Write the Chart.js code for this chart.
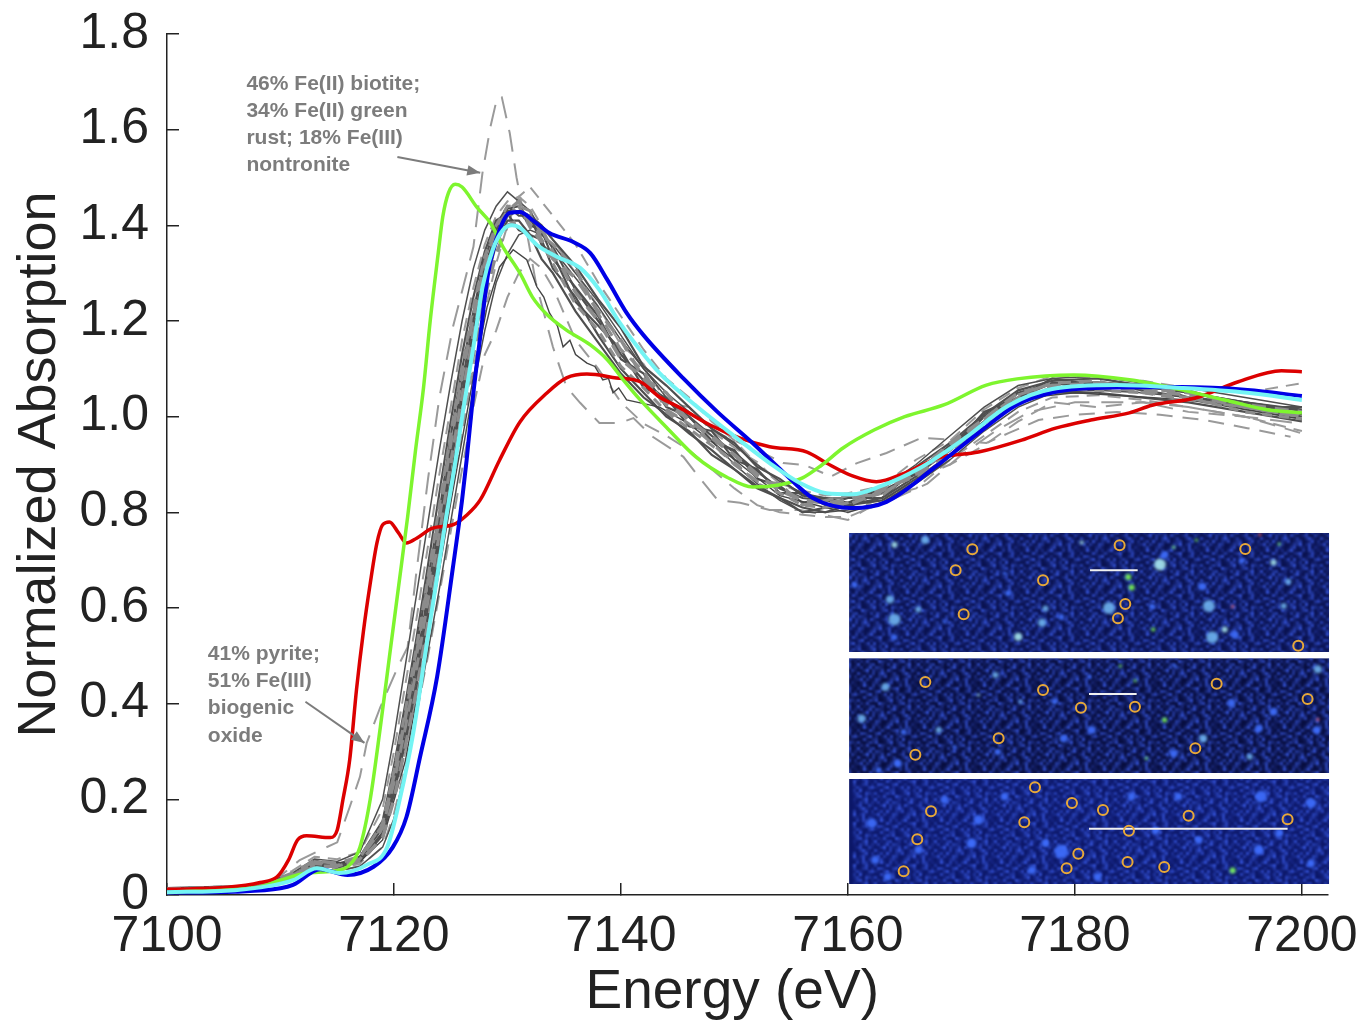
<!DOCTYPE html>
<html><head><meta charset="utf-8">
<style>html,body{margin:0;padding:0;background:#fff}canvas{display:block}</style>
<script src="https://cdn.jsdelivr.net/npm/chart.js@4/dist/chart.umd.min.js"></script></head>
<body><canvas id="c" width="1365" height="1024"></canvas>
<script>
const xTicks=[7100,7120,7140,7160,7180,7200];
const yTicks=[0,0.2,0.4,0.6,0.8,1.0,1.2,1.4,1.6,1.8];

const blueE=[7100,7106,7110,7111.1,7113.5,7115.9,7118.2,7119.9,7121.1,7122.3,7123.8,7125.2,7126,7126.4,7127,7127.6,7128.3,7129.3,7130.2,7131.1,7132.2,7133.7,7135.8,7137.3,7138.8,7140.5,7142,7145.5,7148.5,7151.6,7154.3,7156.9,7160.4,7163.4,7167.7,7171.5,7174.9,7178.3,7181.8,7189.4,7195.2,7200];
const blueA=[.005,.007,.014,.021,.054,.042,.059,.1,.163,.289,.456,.686,.826,.909,1.05,1.167,1.3,1.39,1.426,1.428,1.411,1.384,1.365,1.342,1.286,1.217,1.17,1.08,1.01,.945,.884,.83,.809,.822,.895,.966,1.025,1.052,1.06,1.062,1.056,1.043];
const cyanE=[7100,7106,7111.1,7113.2,7115.2,7117.6,7119.4,7120.5,7121.7,7122.9,7123.8,7124.5,7125.4,7126.1,7127,7127.8,7128.7,7129.6,7130.4,7131.1,7132.6,7134.4,7136.4,7138.1,7139.9,7141.7,7143.4,7145.5,7149.3,7153.1,7155.8,7158.1,7160.4,7162.7,7166.5,7170.3,7174.2,7178,7183.7,7189.4,7195.2,7200];
const cyanA=[.006,.01,.031,.056,.046,.063,.1,.199,.339,.527,.665,.775,.905,1.014,1.146,1.271,1.349,1.39,1.4,1.395,1.359,1.334,1.311,1.265,1.196,1.139,1.091,1.045,.972,.903,.861,.84,.838,.853,.895,.955,1.024,1.058,1.066,1.06,1.05,1.035];
const greenE=[7100,7108.2,7110,7112.3,7114.6,7116.1,7117,7117.9,7118.8,7119.6,7120.4,7121.2,7121.9,7122.6,7123.2,7123.9,7124.3,7124.8,7125.4,7126,7127.3,7128.5,7129.6,7131.1,7132.2,7133.5,7135.2,7137.3,7138.8,7140.2,7141.7,7144,7146.6,7149.3,7151.6,7153.9,7156,7157.7,7159.6,7162.3,7165,7168.5,7172.2,7174.9,7179.9,7184.8,7189.4,7193.2,7197.1,7200];
const greenA=[.006,.017,.031,.046,.05,.063,.1,.199,.351,.498,.644,.79,.93,1.06,1.202,1.342,1.418,1.468,1.486,1.48,1.438,1.405,1.355,1.3,1.25,1.213,1.181,1.15,1.119,1.077,1.035,.978,.916,.874,.853,.857,.872,.899,.935,.972,1,1.025,1.066,1.079,1.087,1.077,1.056,1.035,1.014,1.008];
const redE=[7100,7105.3,7108.2,7109.7,7110.7,7111.5,7112.3,7114.4,7115,7115.5,7116.1,7116.7,7117.3,7117.9,7118.5,7119,7119.6,7120.4,7121.1,7122,7123.4,7125.2,7126.4,7127.6,7129.3,7131.1,7133.5,7135.2,7137,7139.6,7141.7,7143.4,7145.1,7147.8,7150.5,7153.1,7156.4,7158.1,7160.4,7162.5,7165,7168,7171.5,7175.3,7178.3,7181.4,7184.8,7186.8,7190.6,7194.4,7198.2,7200];
const redA=[.012,.016,.026,.038,.073,.115,.124,.12,.136,.199,.283,.43,.55,.65,.736,.774,.78,.757,.736,.746,.767,.774,.794,.826,.909,.989,1.05,1.081,1.089,1.081,1.073,1.041,1.02,.983,.955,.937,.926,.903,.876,.864,.882,.914,.926,.951,.976,.993,1.008,1.024,1.039,1.073,1.096,1.094];

const greyE=[7100,7108,7111,7113,7115,7117,7119,7120,7121,7122,7123,7124,7125,7126,7127,7128,7129,7130,7131,7132,7133,7134,7136,7138,7140,7142,7144,7146,7148,7150,7152,7154,7156,7158,7160,7163,7166,7169,7172,7175,7178,7182,7186,7190,7195,7200];
const darkA=[.012,.018,.04,.068,.062,.075,.14,.24,.36,.49,.63,.78,.93,1.07,1.2,1.31,1.39,1.435,1.44,1.41,1.385,1.355,1.265,1.2,1.13,1.075,1.035,1,.96,.925,.885,.85,.83,.825,.82,.84,.885,.94,1,1.05,1.07,1.072,1.065,1.05,1.03,1.012];
const darkB=[.015,.02,.045,.075,.07,.09,.2,.33,.48,.63,.78,.93,1.07,1.2,1.31,1.39,1.44,1.47,1.45,1.43,1.39,1.35,1.29,1.23,1.16,1.1,1.05,1.01,.975,.94,.9,.865,.84,.83,.83,.85,.9,.96,1.02,1.065,1.08,1.085,1.07,1.06,1.04,1.02];
const darkC=[.01,.015,.03,.055,.05,.06,.1,.16,.26,.38,.51,.64,.78,.92,1.06,1.18,1.28,1.34,1.38,1.39,1.38,1.36,1.3,1.24,1.17,1.1,1.04,1,.95,.9,.86,.825,.8,.8,.805,.82,.86,.91,.97,1.02,1.05,1.055,1.05,1.04,1.015,.995];
const darkD=[.013,.017,.04,.07,.06,.07,.13,.22,.33,.46,.6,.74,.9,1.04,1.17,1.28,1.37,1.42,1.43,1.4,1.39,1.33,1.27,1.21,1.12,1.09,1.02,1,.95,.93,.87,.855,.82,.83,.81,.845,.88,.93,1,1.04,1.07,1.06,1.07,1.04,1.03,1.005];
const darkE=[.014,.018,.042,.066,.064,.08,.15,.26,.38,.52,.66,.8,.96,1.1,1.22,1.33,1.4,1.44,1.42,1.42,1.36,1.34,1.24,1.19,1.14,1.06,1.04,.98,.97,.91,.89,.84,.84,.815,.83,.83,.89,.93,1.01,1.04,1.08,1.065,1.06,1.055,1.02,1.02];
const darkF=[.012,.016,.038,.062,.058,.07,.125,.21,.32,.44,.58,.72,.87,1.01,1.15,1.27,1.36,1.41,1.41,1.38,1.37,1.31,1.25,1.17,1.1,1.05,1,.97,.92,.89,.85,.83,.8,.81,.815,.825,.87,.92,.985,1.03,1.05,1.05,1.04,1.03,1.01,.99];
const darkG=[.013,.017,.036,.072,.06,.08,.155,.27,.4,.54,.69,.84,.99,1.13,1.25,1.345,1.41,1.425,1.39,1.38,1.33,1.3,1.22,1.155,1.09,1.04,1.005,.965,.93,.89,.855,.83,.81,.8,.815,.83,.875,.935,.99,1.035,1.06,1.07,1.055,1.04,1.02,1];
const darkH=[.012,.016,.034,.064,.058,.072,.13,.23,.35,.48,.62,.76,.91,1.05,1.18,1.3,1.38,1.43,1.43,1.42,1.4,1.37,1.315,1.245,1.185,1.105,1.065,1.02,.975,.945,.895,.87,.835,.83,.82,.85,.895,.945,1.005,1.055,1.075,1.08,1.065,1.05,1.03,1.015];
const dashA=[.012,.016,.035,.06,.06,.07,.12,.2,.31,.43,.57,.71,.85,1,1.13,1.25,1.34,1.4,1.41,1.42,1.37,1.33,1.29,1.22,1.16,1.08,1.05,.99,.96,.92,.875,.85,.825,.82,.825,.85,.875,.925,.98,1.03,1.06,1.06,1.055,1.045,1.02,1];
const dashB=[.014,.02,.05,.08,.075,.09,.18,.3,.44,.58,.73,.88,1.02,1.16,1.27,1.36,1.42,1.45,1.46,1.44,1.4,1.37,1.3,1.23,1.15,1.11,1.03,1.02,.97,.935,.905,.86,.845,.835,.84,.855,.91,.95,1.015,1.06,1.085,1.08,1.075,1.06,1.05,1.07];
const dashC=[.013,.018,.045,.072,.066,.08,.145,.25,.37,.505,.65,.79,.945,1.085,1.21,1.32,1.395,1.43,1.45,1.4,1.395,1.345,1.26,1.2,1.12,1.08,1.025,.995,.955,.92,.88,.845,.825,.82,.815,.845,.88,.945,.995,1.05,1.065,1.07,1.06,1.05,1.025,1.01];
const dashD=[.012,.016,.035,.055,.055,.065,.12,.2,.3,.42,.55,.69,.83,.97,1.1,1.22,1.32,1.4,1.46,1.48,1.45,1.42,1.36,1.28,1.21,1.14,1.08,1.04,.99,.95,.9,.86,.84,.82,.8,.83,.85,.91,.96,1.01,1.04,1.045,1.035,1.02,1,.97];
const dashE=[.012,.015,.03,.05,.05,.06,.1,.17,.27,.38,.5,.63,.76,.89,1.02,1.13,1.18,1.25,1.3,1.33,1.31,1.27,1.16,1.1,1.03,.985,.96,.93,.89,.85,.815,.8,.795,.79,.79,.82,.87,.9,.94,.99,1.03,1.02,1.03,1.01,1,.965];
const dashF=[.013,.017,.04,.066,.06,.075,.14,.235,.35,.475,.615,.755,.905,1.045,1.175,1.29,1.375,1.42,1.44,1.43,1.38,1.36,1.31,1.215,1.14,1.095,1.015,.985,.945,.9,.865,.86,.815,.825,.835,.835,.89,.94,.995,1.045,1.07,1.075,1.05,1.035,1.02,1];
const dashG=[.012,.016,.036,.07,.062,.078,.15,.26,.385,.52,.665,.815,.965,1.105,1.23,1.335,1.4,1.44,1.44,1.395,1.365,1.32,1.235,1.18,1.105,1.06,1.01,.975,.94,.905,.86,.84,.815,.81,.82,.84,.88,.93,.99,1.04,1.06,1.055,1.05,1.04,1.01,.995];

const spikeE=[7100,7108,7110,7111.7,7113.5,7115,7116.1,7117,7117.6,7118.8,7120.5,7121.2,7122,7123,7124,7125.2,7127,7127.8,7128.5,7129.1,7129.5,7130.2,7130.8,7131.6,7132.5,7134,7135.2,7136.4,7138.1,7139.9,7141.1,7142.8,7145.5,7146.6,7148.5,7150.5,7153.1,7155.8,7160,7161.5,7163.8,7167,7170,7173,7176,7180,7186,7190,7195,7200];
const spikeA=[.012,.02,.04,.073,.094,.11,.184,.247,.318,.393,.485,.518,.68,.87,1.04,1.188,1.355,1.51,1.606,1.668,1.668,1.593,1.5,1.4,1.28,1.146,1.062,1.029,.987,.987,.997,.958,.916,.882,.826,.82,.805,.805,.784,.805,.826,.86,.92,.97,1.01,1.03,1.03,1.02,1,.985];
const lateE=[7148,7152,7154.3,7156.2,7158.5,7160.8,7163.4,7166.5,7168.5,7172.2,7174.2,7176.8,7180,7183.7,7187.5,7191.4,7195.2,7199];
const lateA=[.97,.93,.903,.899,.875,.903,.924,.956,.953,.945,.966,.993,1.004,1.01,1.004,.993,.976,.958];
const thinE=[7100,7108,7111,7113,7117,7119,7121,7123,7125,7127,7128.2,7129.3,7130.5,7131.7,7132.6,7133.2,7133.7,7134.4,7134.9,7135.5,7136,7137,7137.7,7138.4,7138.9,7139.3,7139.8,7140.5,7141.5,7143.4,7146,7150,7154,7158,7160,7163,7168,7172,7176,7180,7190,7200];
const thinA=[.012,.016,.03,.065,.07,.115,.28,.54,.82,1.083,1.229,1.313,1.349,1.328,1.271,1.25,1.217,1.19,1.146,1.16,1.13,1.112,1.105,1.077,1.08,1.05,1.06,1.035,1.03,1.02,.985,.91,.835,.81,.8,.82,.895,.985,1.04,1.05,1.035,.995];

const circleE=[7170.96,7169.49,7177.19,7170.2,7183.94,7184.44,7183.79,7195.01,7199.68,7166.82,7177.19,7180.53,7185.29,7192.49,7200.5,7173.28,7165.94,7190.61,7176.48,7179.74,7167.32,7182.47,7190.02,7198.74,7175.54,7184.76,7166.11,7180.3,7184.64,7187.87,7179.27,7164.91];
const circleA=[.7227,.6788,.6579,.5868,.731,.6084,.5784,.7234,.5213,.4453,.4286,.3916,.3937,.4418,.4098,.3275,.2934,.3066,.2251,.1923,.1749,.1777,.1658,.1582,.1519,.1345,.1164,.0864,.069,.0585,.0557,.0495];
const barE=[[7181.33,7185.53],[7181.24,7185.44],[7181.24,7198.74]];
const barA=[.6788,.4202,.1387];
const panelE=[7160.1,7202.4];
const panelA=[[.757,.508],[.495,.255],[.2425,.023]];
const panelTint=['#0a1250','#080e40','#0c1768'];
// bright specks of the inset maps: [energy, absorption, radius, colour]
const c1='#a8e8f0',b1='#3f6fff',g1='#80ff50',r1='#ff6050',s1='#6fb4f0';
const specks=[
[7187.5,.691,6,c1],[7175,.540,4,c1],[7164.1,.576,6,s1],[7163.7,.618,4,s1],[7164.1,.732,3,c1],[7183,.600,6,s1],[7184.7,.665,3,g1],[7185,.643,3,g1],[7191.8,.604,6,s1],[7192.1,.539,6,s1],[7187.9,.711,4,b1],[7177.1,.569,4,s1],[7197.5,.695,3,c1],[7198.4,.604,3,s1],[7193.2,.555,3,c1],[7194.1,.544,4,b1],[7166.8,.742,4,s1],[7180.6,.737,2,c1],[7186.9,.555,2,g1],[7188.7,.727,1.5,g1],[7190.7,.742,1.5,g1],[7198,.734,1.5,g1],[7193.9,.603,1.5,r1],[7196.3,.753,1.5,r1],[7174.1,.631,3,b1],[7178.8,.581,3,b1],[7191.2,.645,4,b1],[7198.8,.655,3,s1],[7177.4,.599,3,s1],[7164.1,.539,3,b1],[7166.2,.597,3,s1],[7160.6,.648,3,b1],[7168.5,.571,2,b1],[7173.8,.672,2,b1],[7186.8,.603,3,b1],[7194.7,.699,3,b1],
[7187.9,.366,2.5,g1],[7201.4,.472,4,s1],[7191.3,.327,4,s1],[7188.7,.296,4,b1],[7171.5,.418,1.5,c1],[7173,.460,3,s1],[7197.5,.383,4,b1],[7193.8,.401,4,b1],[7181.5,.345,4,b1],[7179,.327,4,b1],[7161.2,.369,4,s1],[7164.4,.275,4,b1],[7168,.345,3,s1],[7178.2,.404,3,b1],[7184,.479,1.5,g1],[7185.3,.448,1.5,g1],[7186.3,.286,1.5,g1],[7201.4,.367,1.5,r1],[7195.4,.289,3,s1],[7201.3,.345,4,b1],[7188.8,.479,2,b1],[7175.2,.404,2,s1],[7163.3,.435,4,s1],[7173.2,.299,3,b1],[7162.7,.261,3,b1],[7196.2,.348,4,b1],[7181.3,.456,2,b1],[7164.9,.341,3,b1],[7169.4,.310,2,b1],
[7193.9,.051,3,g1],[7178.8,.091,7,b1],[7196.4,.206,6,b1],[7200.8,.192,5,b1],[7162.1,.150,5,b1],[7168.5,.199,4,b1],[7171.5,.157,5,b1],[7177.4,.108,4,b1],[7170.9,.108,5,b1],[7190.9,.115,4,b1],[7196.2,.094,5,b1],[7200.8,.066,4,b1],[7182,.038,4,b1],[7162.4,.073,4,b1],[7166.2,.094,4,b1],[7173.8,.206,4,b1],[7185,.206,4,b1],[7189.1,.206,4,b1],[7176.2,.052,4,b1],[7198,.129,4,b1],[7163.5,.038,4,b1],[7187.1,.135,4,b1]];
// fine-grain tile for the map panels (hex = brightness)
const tile=['03a10582017b0341c052','12f3091506e20081a713','7001c40292048e003b20','0b93018d015028016a04','4207e1503b0c0394108c','01b2068013a5170e0231','a10395c0027e04920b63','062b100e7315028c1704','d0317a025091b4106e02','2804c1963007e2083a15','016f0833a0c4015b0093','b2041907e5028106d420','0390d2164b0379015c06','5c0821a700286f04b213'];
const note1=['46% Fe(II) biotite;','34% Fe(II) green','rust; 18% Fe(III)','nontronite'];
const note1A=[1.696,1.639,1.583,1.526];
const note2=['41% pyrite;','51% Fe(III)','biogenic','oxide'];
const note2A=[.504,.448,.391,.333];

const pts=(e,a)=>e.map((x,i)=>({x,y:a[i]}));
const line=(e,a,color,w,dash,smooth)=>({data:pts(e,a),borderColor:color,borderWidth:w,borderDash:dash||[],cubicInterpolationMode:smooth?'monotone':'default',tension:0,showLine:true,pointRadius:0,fill:false});
const DK='#4f4f4f',GR='#9a9a9a',DS=[13,8],TH=[14,9];
const layers=[
 line(spikeE,spikeA,GR,2,[22,12]),line(lateE,lateA,GR,2,[16,10]),
 line(greyE,dashE,GR,2,[16,10]),line(greyE,dashD,GR,2,DS),line(greyE,dashB,GR,2,DS),
 line(greyE,darkB,DK,1.5),line(greyE,darkC,DK,1.5),line(greyE,darkA,DK,2.2),line(greyE,darkD,DK,2.2),line(greyE,darkE,DK,2.2),line(greyE,darkF,DK,2.2),line(greyE,darkG,DK,2.2),line(greyE,darkH,DK,2.2),
 line(thinE,thinA,'#444',1.4),
 line(greyE,dashA,'#8c8c8c',3.5,TH),line(greyE,dashC,'#8c8c8c',3.5,TH),line(greyE,dashF,'#8c8c8c',3,DS),line(greyE,dashG,'#8c8c8c',3,[10,7]),
 line(redE,redA,'#dc0000',3.5,null,true),
 line(greenE,greenA,'#7ef52e',3.5,null,true),
 line(blueE,blueA,'#0000e6',4,null,true),
 line(cyanE,cyanA,'#74f4f4',4,null,true),
 ...barE.map((e,i)=>line(e,[barA[i],barA[i]],'#f0f0f0',2)),
 {data:pts(circleE,circleA),showLine:false,pointStyle:'circle',pointRadius:5,pointBorderWidth:2,pointBorderColor:'#e8a838',pointBackgroundColor:'rgba(0,0,0,0)'}
];
const datasets=layers.slice().reverse(); // Chart.js paints the first dataset last
const insetPlugin={id:'inset',beforeDatasetsDraw(ch){
 const {ctx,scales:{x,y}}=ch;
 const off=document.createElement('canvas');off.width=60;off.height=42;const o=off.getContext('2d');
 tile.forEach((row,j)=>[...row].forEach((d,i)=>{const v=parseInt(d,16);if(v){o.fillStyle=`rgba(60,95,240,${v/18})`;o.fillRect(i*3,j*3,3,3);}}));
 panelA.forEach((p,k)=>{
  const l=x.getPixelForValue(panelE[0]),r=x.getPixelForValue(panelE[1]),t=y.getPixelForValue(p[0]),b=y.getPixelForValue(p[1]);
  ctx.save();ctx.beginPath();ctx.rect(l,t,r-l,b-t);ctx.clip();
  ctx.fillStyle=panelTint[k];ctx.fillRect(l,t,r-l,b-t);
  ctx.filter='blur(1px)';ctx.fillStyle=ctx.createPattern(off,'repeat');ctx.translate(k*17,k*9);ctx.fillRect(l-30,t-30,r-l+60,b-t+60);ctx.translate(-k*17,-k*9);
  ctx.filter='blur(1.6px)';
  specks.forEach(s=>{ctx.fillStyle=s[3];ctx.globalAlpha=.9;ctx.beginPath();ctx.arc(x.getPixelForValue(s[0]),y.getPixelForValue(s[1]),s[2],0,7);ctx.fill();});
  ctx.restore();
 });
},afterDatasetsDraw(ch){
 const {ctx,scales:{x,y}}=ch;
 ctx.save();ctx.fillStyle='#7c7c7c';ctx.font='bold 21px "Liberation Sans",sans-serif';ctx.textBaseline='middle';
 note1.forEach((t,i)=>ctx.fillText(t,x.getPixelForValue(7107),y.getPixelForValue(note1A[i])));
 note2.forEach((t,i)=>ctx.fillText(t,x.getPixelForValue(7103.6),y.getPixelForValue(note2A[i])));
 const arrow=(e0,a0,e1,a1)=>{const x0=x.getPixelForValue(e0),y0=y.getPixelForValue(a0),x1=x.getPixelForValue(e1),y1=y.getPixelForValue(a1),th=Math.atan2(y1-y0,x1-x0);
  ctx.strokeStyle='#7c7c7c';ctx.lineWidth=2;ctx.beginPath();ctx.moveTo(x0,y0);ctx.lineTo(x1,y1);ctx.stroke();
  ctx.beginPath();ctx.moveTo(x1,y1);ctx.lineTo(x1-14*Math.cos(th-.38),y1-14*Math.sin(th-.38));ctx.lineTo(x1-14*Math.cos(th+.38),y1-14*Math.sin(th+.38));ctx.closePath();ctx.fill();};
 arrow(7120.3,1.543,7127.6,1.51);arrow(7112.2,.404,7117.4,.318);
 ctx.restore();
}};
new Chart(document.getElementById('c'),{type:'scatter',data:{datasets},plugins:[insetPlugin],options:{
 responsive:false,animation:false,
 layout:{padding:{top:34,right:37,left:0,bottom:0}},
 plugins:{legend:{display:false},tooltip:{enabled:false}},
 scales:{
  x:{type:'linear',min:7100,max:7202.3,
   afterBuildTicks(s){s.ticks=xTicks.map(v=>({value:v}));},
   afterFit(s){s.height=129;s.paddingLeft=0;s.paddingRight=0;},
   grid:{drawOnChartArea:false,drawTicks:true,tickLength:-12,color:'#222',lineWidth:1.5},border:{color:'#222',width:1.5},
   ticks:{color:'#222',padding:24,maxRotation:0,autoSkip:false,font:{family:'"Liberation Sans"',size:50},callback:v=>String(v)},
   title:{display:true,text:'Energy (eV)  ',color:'#222',font:{family:'"Liberation Sans"',size:55},padding:{top:0,bottom:-2}}},
  y:{type:'linear',min:0,max:1.8,
   afterBuildTicks(s){s.ticks=yTicks.map(v=>({value:v}));},
   afterFit(s){s.width=167;s.paddingTop=0;s.paddingBottom=0;},
   grid:{drawOnChartArea:false,drawTicks:true,tickLength:-12,color:'#222',lineWidth:1.5},border:{color:'#222',width:1.5},
   ticks:{color:'#222',padding:30,autoSkip:false,font:{family:'"Liberation Sans"',size:50},callback:v=>v===0?'0':v.toFixed(1)},
   title:{display:true,text:'Normalized Absorption',color:'#222',font:{family:'"Liberation Sans"',size:54},padding:{top:8,bottom:0}}}
 }}});
</script></body></html>
